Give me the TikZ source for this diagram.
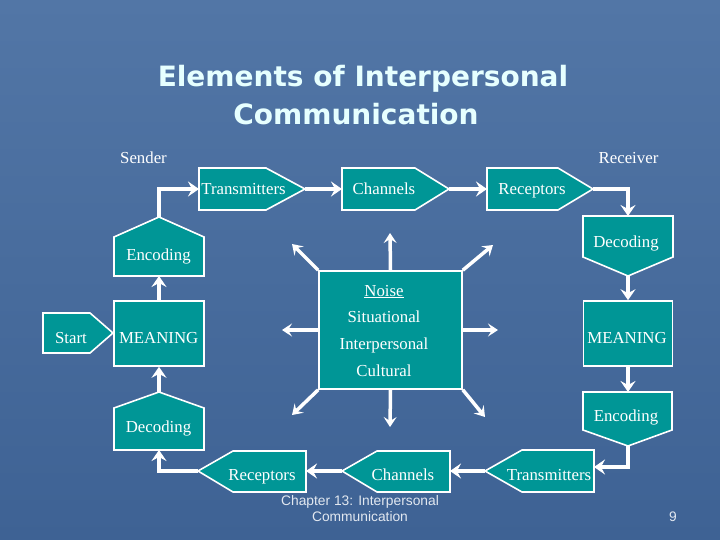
\documentclass[tikz,border=0pt]{standalone}
\usepackage{fontspec}
\setmainfont{Liberation Serif}
\newfontfamily\titlefont{DejaVu Sans}
\newfontfamily\footfont{Liberation Sans}
\usetikzlibrary{arrows.meta}
\definecolor{slidetop}{RGB}{82,118,166}
\definecolor{slidebot}{RGB}{62,98,148}
\definecolor{boxteal}{RGB}{0,150,150}
\definecolor{titlecyan}{RGB}{230,255,255}
\definecolor{footgrey}{RGB}{226,232,240}
\begin{document}
\begin{tikzpicture}[x=1pt,y=-1pt,
    box/.style={draw=white,line width=1.6pt,fill=boxteal},
    word/.style={anchor=base,text=white,inner sep=0pt,font=\fontsize{16.8}{18}\selectfont},
    heading/.style={anchor=base,inner sep=0pt,text=titlecyan,font=\titlefont\bfseries\fontsize{28}{30}\selectfont},
    foot/.style={anchor=base,inner sep=0pt,text=footgrey,font=\footfont\fontsize{13.8}{15}\selectfont},
    flow/.style={white,line width=4.5pt,-{Stealth[length=11pt,width=15pt,inset=4pt]}},
    burst/.style={white,line width=3.5pt,-{Stealth[length=10pt,width=13pt,inset=4pt]}}]
  % slide background
  \shade[top color=slidetop,bottom color=slidebot] (0,0) rectangle (720,540);
  \useasboundingbox (0,0) rectangle (720,540);
  % title
  \node[heading] (titleA) at (363,87) {Elements of Interpersonal};
  \node[heading] (titleB) at (356,125) {Communication};
  \node[word] (sender) at (143.5,163.3) {Sender};
  \node[word] (receiver) at (628.5,163.3) {Receiver};

  % top row: sender to receiver
  \draw[box] (199,168) -- (266,168) -- (305,189) -- (266,210) -- (199,210) -- cycle;
  \draw[box] (342,168) -- (415,168) -- (449,189) -- (415,210) -- (342,210) -- cycle;
  \draw[box] (487,168) -- (558,168) -- (593,189) -- (558,210) -- (487,210) -- cycle;
  \coordinate (trTin) at (199,189); \coordinate (trTout) at (305,189);
  \coordinate (chTin) at (342,189); \coordinate (chTout) at (449,189);
  \coordinate (reTin) at (487,189); \coordinate (reTout) at (593,189);
  \node[word] (trT) at (243.5,195) {Transmitters};
  \node[word] (chT) at (384,195) {Channels};
  \node[word] (reT) at (532,194.5) {Receptors};

  % right column
  \draw[box] (583,216) -- (673,216) -- (673,257) -- (628,276) -- (583,257) -- cycle;
  \coordinate (decRin) at (628,216); \coordinate (decRout) at (628,276);
  \node[word] (decR) at (626,247.3) {Decoding};
  \node[box,minimum width=89pt,minimum height=65pt] (meanR) at (628,333.5) {};
  \node[word] (meanRt) at (627,343.3) {MEANING};
  \draw[box] (583,392) -- (672,392) -- (672,430) -- (628,446) -- (583,430) -- cycle;
  \coordinate (encRin) at (628,392); \coordinate (encRout) at (628,446);
  \node[word] (encR) at (626,421.7) {Encoding};

  % bottom row: back to the sender
  \draw[box] (485,471) -- (522,450) -- (594,450) -- (594,492) -- (522,492) -- cycle;
  \draw[box] (342,471) -- (377,451) -- (450,451) -- (450,492) -- (377,492) -- cycle;
  \draw[box] (198,471) -- (233,451) -- (306,451) -- (306,492) -- (233,492) -- cycle;
  \coordinate (trBin) at (594,467); \coordinate (trBout) at (485,471);
  \coordinate (chBin) at (450,471); \coordinate (chBout) at (342,471);
  \coordinate (reBin) at (306,471); \coordinate (reBout) at (198,471);
  \node[word] (trB) at (549,480.7) {Transmitters};
  \node[word] (chB) at (403,480.7) {Channels};
  \node[word] (reB) at (262,480.7) {Receptors};

  % left column
  \draw[box] (114,408) -- (159,392) -- (204,408) -- (204,450) -- (114,450) -- cycle;
  \coordinate (decLin) at (159,450); \coordinate (decLout) at (159,392);
  \node[word] (decL) at (158.5,432.7) {Decoding};
  \node[box,minimum width=90pt,minimum height=65pt] (meanL) at (159,333.5) {};
  \node[word] (meanLt) at (158.7,343.3) {MEANING};
  \draw[box] (114,237) -- (159,217) -- (204,237) -- (204,276) -- (114,276) -- cycle;
  \coordinate (encLin) at (159,276); \coordinate (encLout) at (159,217);
  \node[word] (encL) at (158.5,260) {Encoding};
  \draw[box] (43,313) -- (90,313) -- (113,333) -- (90,353) -- (43,353) -- cycle;
  \node[word] (start) at (71,343.3) {Start};

  % the loop
  \draw[flow] (encLout) |- (trTin);
  \draw[flow] (trTout) -- (chTin);
  \draw[flow] (chTout) -- (reTin);
  \draw[flow] (reTout) -| (decRin);
  \draw[flow] (decRout) -- (meanR.north);
  \draw[flow] (meanR.south) -- (encRin);
  \draw[flow] (encRout) |- (trBin);
  \draw[flow] (trBout) -- (chBin);
  \draw[flow] (chBout) -- (reBin);
  \draw[flow] (reBout) -| (decLin);
  \draw[flow] (decLout) -- (meanL.south);
  \draw[flow] (meanL.north) -- (encLin);

  % noise in the middle
  \coordinate (nUp) at (390,233);
  \coordinate (nDown) at (390,427);
  \coordinate (nLeft) at (282,330);
  \coordinate (nRight) at (498,330);
  \coordinate (nNW) at (292,244);
  \coordinate (nNE) at (493,245);
  \coordinate (nSW) at (292,415);
  \coordinate (nSE) at (485,417);
  \node[box,minimum width=143pt,minimum height=118pt] (noise) at (390.5,330) {};
  \draw[burst] (noise.north) -- (nUp);
  \draw[burst] (noise.south) -- (nDown);
  \draw[burst] (noise.west) -- (nLeft);
  \draw[burst] (noise.east) -- (nRight);
  \draw[burst] (noise.north west) -- (nNW);
  \draw[burst] (noise.north east) -- (nNE);
  \draw[burst] (noise.south west) -- (nSW);
  \draw[burst] (noise.south east) -- (nSE);
  \node[word] (noiseA) at (384,296) {\underline{Noise}};
  \node[word] (noiseB) at (384,322.3) {Situational};
  \node[word] (noiseC) at (384,349) {Interpersonal};
  \node[word] (noiseD) at (384,376) {Cultural};

  % footer
  \node[foot] (footA) at (360,505.7) {Chapter 13: Interpersonal};
  \node[foot] (footB) at (360,521.7) {Communication};
  \node[foot] (page) at (673,521.7) {9};
\end{tikzpicture}
\end{document}
